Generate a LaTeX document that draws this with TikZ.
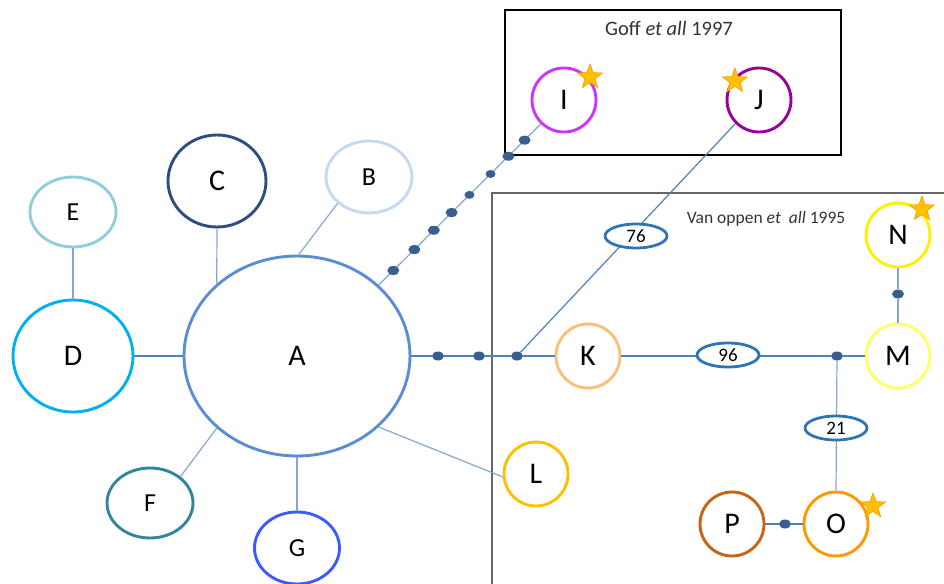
\documentclass[tikz,border=0pt]{standalone}
\usepackage{fontspec}
\setmainfont{Carlito}
\usetikzlibrary{shapes.geometric}
\definecolor{cA}{RGB}{91,141,212}
\definecolor{cB}{RGB}{198,217,241}
\definecolor{cC}{RGB}{47,77,126}
\definecolor{cD}{RGB}{0,176,240}
\definecolor{cE}{RGB}{146,205,220}
\definecolor{cF}{RGB}{49,133,156}
\definecolor{cG}{RGB}{61,90,254}
\definecolor{cI}{RGB}{204,51,255}
\definecolor{cJ}{RGB}{153,0,153}
\definecolor{cK}{RGB}{250,192,120}
\definecolor{cL}{RGB}{255,192,0}
\definecolor{cM}{RGB}{255,255,102}
\definecolor{cN}{RGB}{255,240,0}
\definecolor{cO}{RGB}{255,153,0}
\definecolor{cP}{RGB}{198,100,20}
\definecolor{ovalblue}{RGB}{46,117,182}
\definecolor{linemid}{RGB}{79,129,189}
\definecolor{linelight}{RGB}{135,165,210}
\definecolor{dotblue}{RGB}{59,94,145}
\definecolor{stargold}{RGB}{255,192,0}
\definecolor{starorange}{RGB}{255,153,0}
\tikzset{
  hap/.style={ellipse, draw=#1, line width=2.9pt, inner sep=0pt, font=\fontsize{30}{34}\selectfont},
  small/.style={hap=#1, minimum width=64pt, minimum height=64pt},
  oval/.style={ellipse, draw=ovalblue, line width=2.8pt, fill=white, inner sep=0pt, minimum width=62pt, minimum height=24pt, font=\fontsize{19}{22}\selectfont},
  dotnode/.style={ellipse, fill=dotblue, inner sep=0pt, minimum width=12pt, minimum height=9pt},
  conn/.style={draw=linelight, line width=1.2pt},
  connmid/.style={draw=linemid, line width=1.2pt},
  starnode/.style={star, star points=5, star point ratio=2.4, minimum size=26pt, inner sep=0pt, fill=stargold, draw=starorange, line width=0.6pt},
  boxtitle/.style={font=\fontsize{20.5}{24}\selectfont, text=black!80}
}
\begin{document}
\begin{tikzpicture}[x=1pt,y=-1pt]
\useasboundingbox (0,0) rectangle (944,583);
\clip (0,0) rectangle (944,583);
% boxes
\draw[black, line width=1.2pt] (505,10) rectangle (841,155);
\node[boxtitle] (goff) at (669,28) {Goff \textit{et all} 1997};
\draw[black!60, line width=1.5pt] (492,193) rectangle (960,600);
\node[boxtitle, font=\fontsize{17.5}{21}\selectfont] (vanoppen) at (766,219) {Van oppen \textit{et \ all} 1995};
% haplotype nodes
\node[hap=cA, minimum width=226pt, minimum height=200pt] (A) at (297,356) {A};
\node[hap=cB, minimum width=86pt, minimum height=72pt, font=\fontsize{26}{30}\selectfont] (B) at (369,177) {B};
\node[hap=cC, minimum width=98pt, minimum height=92pt] (C) at (217,181) {C};
\node[hap=cE, minimum width=86pt, minimum height=70pt, font=\fontsize{26}{30}\selectfont] (E) at (73,212) {E};
\node[hap=cD, minimum width=120pt, minimum height=112pt] (D) at (73,356) {D};
\node[hap=cF, minimum width=86pt, minimum height=70pt, font=\fontsize{26}{30}\selectfont] (F) at (150,503) {F};
\node[hap=cG, minimum width=85pt, minimum height=72pt, font=\fontsize{26}{30}\selectfont] (G) at (297,548) {G};
\node[small=cL] (L) at (536,474) {L};
\node[small=cK] (K) at (588,356) {K};
\node[small=cM] (M) at (898,356) {M};
\node[small=cN] (N) at (898,235) {N};
\node[small=cI] (I) at (564,100) {I};
\node[small=cJ] (J) at (759,100) {J};
\node[small=cO] (O) at (836,524) {O};
\node[small=cP] (P) at (732,524) {P};
% stars
\node[starnode] (sI) at (590,77) {};
\node[starnode] (sJ) at (735,81) {};
\node[starnode] (sN) at (922,209) {};
\node[starnode] (sO) at (873,506) {};
% dots
\node[dotnode] (d1) at (438,356) {};
\node[dotnode] (d2) at (479,356) {};
\node[dotnode] (d3) at (517,356) {};
\node[dotnode] (d4) at (837,356) {};
\node[dotnode] (d5) at (898,294) {};
\node[dotnode] (d6) at (785,524) {};
% connectors
\draw[conn] (B.220) -- (A.89);
\draw[conn] (C.south) -- (A.138);
\draw[conn] (E.south) -- (D.north);
\draw[connmid] (D.east) -- (A.west);
\draw[conn] (F.41) -- (A.222);
\draw[conn] (A.south) -- (G.north);
\draw[conn] (A.319) -- (L.185);
\draw[connmid] (A.east) -- (d1) -- (d2) -- (d3) -- (K.west);
\draw[conn] (A.41) -- (I.226)
  node[dotnode, pos=0.09] (q1) {}
  node[dotnode, pos=0.22] (q2) {}
  node[dotnode, pos=0.34] (q3) {}
  node[dotnode, pos=0.45] (q4) {}
  node[dotnode, pos=0.56, minimum width=10pt, minimum height=8pt] (q5) {}
  node[dotnode, pos=0.69, minimum width=10pt, minimum height=8pt] (q6) {}
  node[dotnode, pos=0.80] (q7) {}
  node[dotnode, pos=0.90] (q8) {};
\draw[connmid] (d3) -- (J.225);
\node[oval] (o76) at (636,236) {76};
\draw[connmid] (K.east) -- (d4) -- (M.west);
\node[oval] (o96) at (728,355) {96};
\draw[conn] (d4) -- (O.north);
\node[oval] (o21) at (836,428) {21};
\draw[conn] (M.north) -- (d5) -- (N.south);
\draw[connmid] (P.east) -- (d6) -- (O.west);
\end{tikzpicture}
\end{document}
